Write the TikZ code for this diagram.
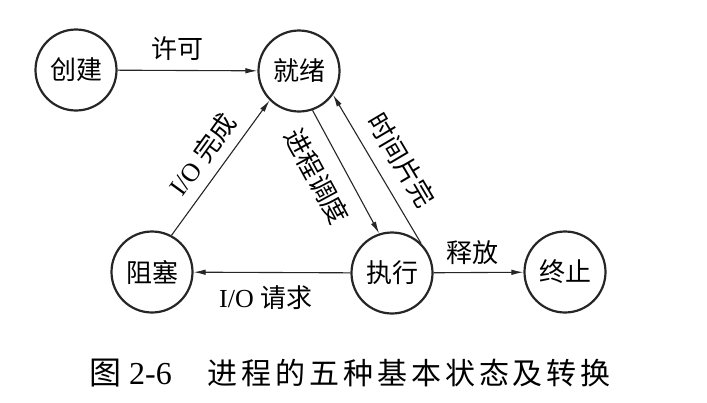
\documentclass[tikz,border=0pt]{standalone}
\usepackage{fontspec}
\setmainfont{Liberation Serif}
\newfontfamily\cjk{Noto Sans CJK SC}
\newfontfamily\cjkcap{Noto Sans CJK SC}[LetterSpace=13]
\usetikzlibrary{arrows.meta}

\begin{document}
\begin{tikzpicture}[
  x=1pt, y=-1pt,
  state/.style={circle, draw=black!85, line width=2.2pt, minimum size=81pt, inner sep=0pt,
                font=\cjk\fontsize{26}{26}\selectfont},
  lbl/.style={inner sep=2pt, font=\fontsize{26}{26}\selectfont},
  arrow/.style={-{Latex[length=12pt,width=5.5pt]}, line width=1.1pt, draw=black!85}
]
\useasboundingbox (0,0) rectangle (707,402);

\node[state] (create) at (76,70) {创建};
\node[state] (ready) at (299,71) {就绪};
\node[state] (blocked) at (152,272) {阻塞};
\node[state] (running) at (392,273) {执行};
\node[state] (exit) at (565,272) {终止};

\draw[arrow] (create) -- node[lbl, above=7pt, pos=0.43] {\cjk 许可} (ready);
\draw[arrow] (blocked.62) -- node[lbl, sloped, above=8pt] {I/O \cjk 完成} (ready.225);
\draw[arrow] (ready.289) -- node[lbl, sloped, below=13pt, pos=0.43] {\cjk 进程调度} (running.108);
\draw[arrow] (running.46) -- node[lbl, sloped, above=11pt, pos=0.47] {\cjk 时间片完} (ready.325);
\draw[arrow] (running) -- node[lbl, below=11pt, pos=0.54] {I/O \cjk 请求} (blocked);
\draw[arrow] (running) -- node[lbl, above=5pt, pos=0.43] {\cjk 释放} (exit);

% caption
\node[anchor=west, inner sep=0pt, font=\fontsize{32}{32}\selectfont] (caption) at (89,373)
  {{\cjk 图} 2-6\hspace{36pt}{\fontsize{30}{30}\cjkcap 进程的五种基本状态及转换}};
\end{tikzpicture}
\end{document}
